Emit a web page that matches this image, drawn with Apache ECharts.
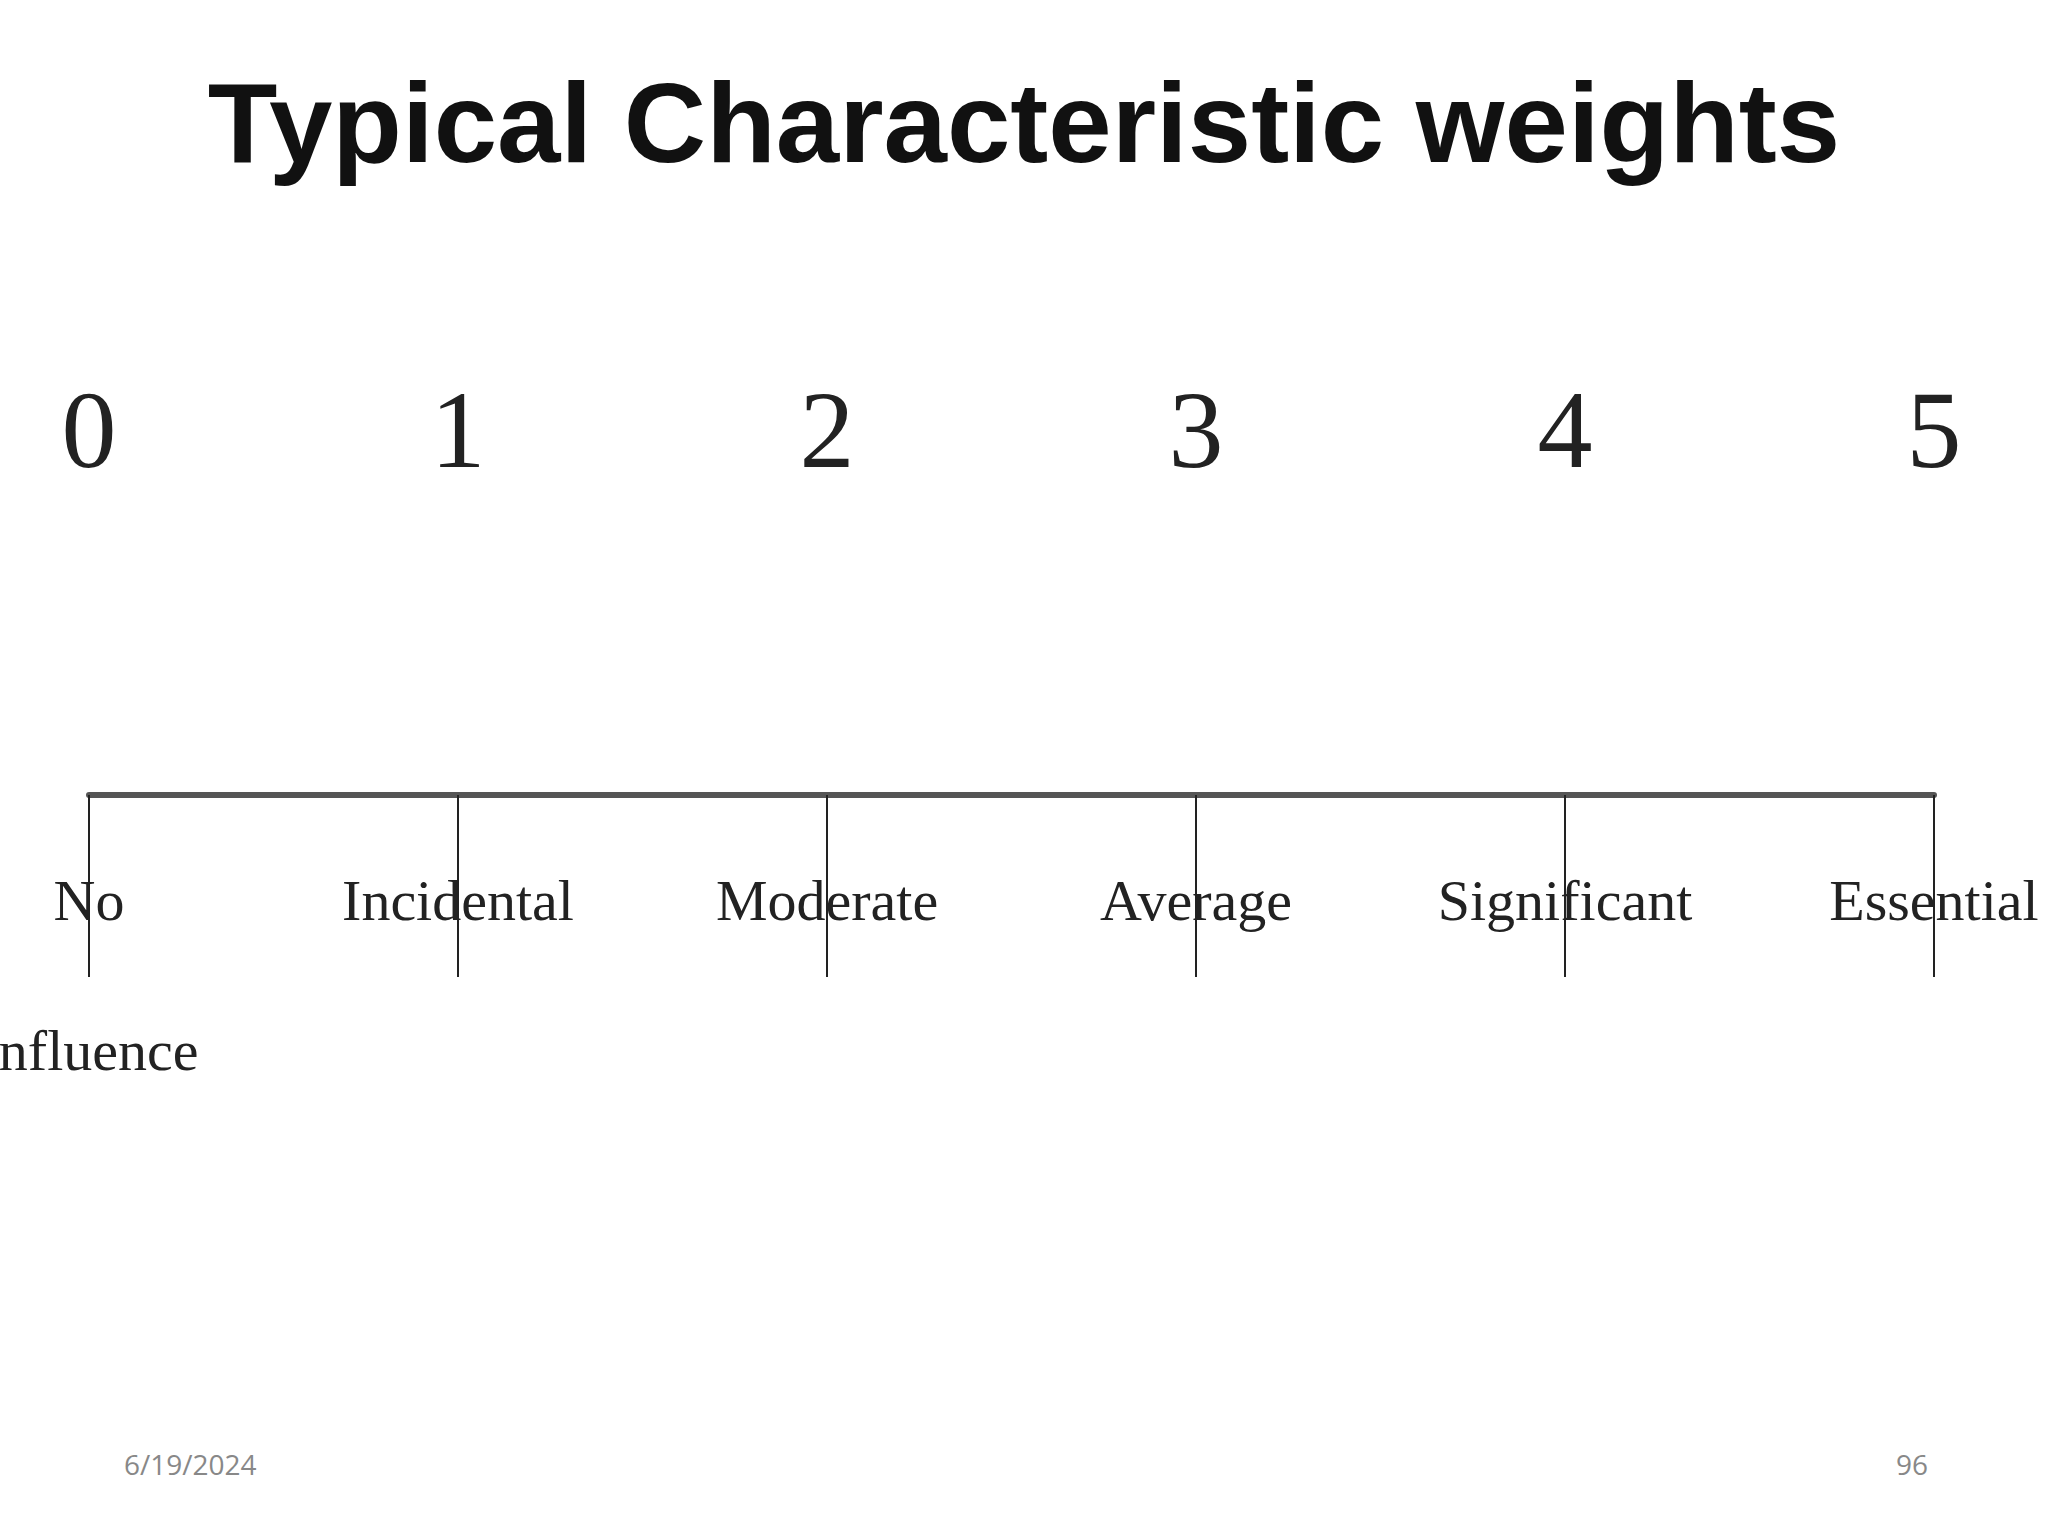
<!DOCTYPE html>
<html>
<head>
<meta charset="utf-8">
<script src="https://cdn.jsdelivr.net/npm/echarts@6/dist/echarts.min.js"></script>
<style>
  html, body { margin: 0; padding: 0; background: #fff; }
  #chart { width: 2048px; height: 1536px; }
</style>
</head>
<body>
<div id="chart"></div>
<script>
const title = 'Typical Characteristic weights'
const weights = [0, 1, 2, 3, 4, 5]
const weightNames = ['No\nInfluence', 'Incidental', 'Moderate', 'Average', 'Significant', 'Essential']
const footerDate = '6/19/2024'
const pageNumber = '96'

const chart = echarts.init(document.getElementById('chart'), null, { renderer: 'svg' })

const serif = '"Liberation Serif", serif'

chart.setOption({
  backgroundColor: '#fff',
  animation: false,
  title: {
    text: title,
    left: 'center',
    top: 60,
    textStyle: { fontFamily: 'Liberation Sans, Arial', fontWeight: 'bold', fontSize: 114, color: '#111' }
  },
  graphic: [
    { type: 'text', left: 124, top: 1450, style: { text: footerDate, font: '28px "Open Sans", sans-serif', fill: '#888' } },
    { type: 'text', right: 120, top: 1450, style: { text: pageNumber, font: '28px "Open Sans", sans-serif', fill: '#888' } }
  ],
  grid: { left: 89, right: 114, top: 613, height: 182, outerBoundsMode: 'none', containLabel: false },
  xAxis: [
    {
      type: 'value', position: 'top', min: 0, max: 5, interval: 1,
      splitLine: { show: false },
      axisLine: { lineStyle: { color: '#555', width: 6 } },
      axisTick: { inside: true, length: 182, lineStyle: { color: '#222', width: 2 } },
      axisLabel: {
        margin: 128, fontFamily: serif, fontSize: 110, color: '#222',
        formatter: v => String(weights[v])
      }
    },
    {
      type: 'value', position: 'bottom', min: 0, max: 5, interval: 1,
      splitLine: { show: false },
      axisLine: { show: false },
      axisTick: { show: false },
      axisLabel: {
        margin: 30, fontFamily: serif, fontSize: 58, color: '#222', lineHeight: 150,
        formatter: v => weightNames[v]
      }
    }
  ],
  yAxis: { type: 'value', min: 0, max: 1, show: false },
  series: [
    { type: 'scatter', xAxisIndex: 0, data: weights.map(w => [w, 0]), symbolSize: 0, silent: true }
  ]
})
</script>
</body>
</html>
